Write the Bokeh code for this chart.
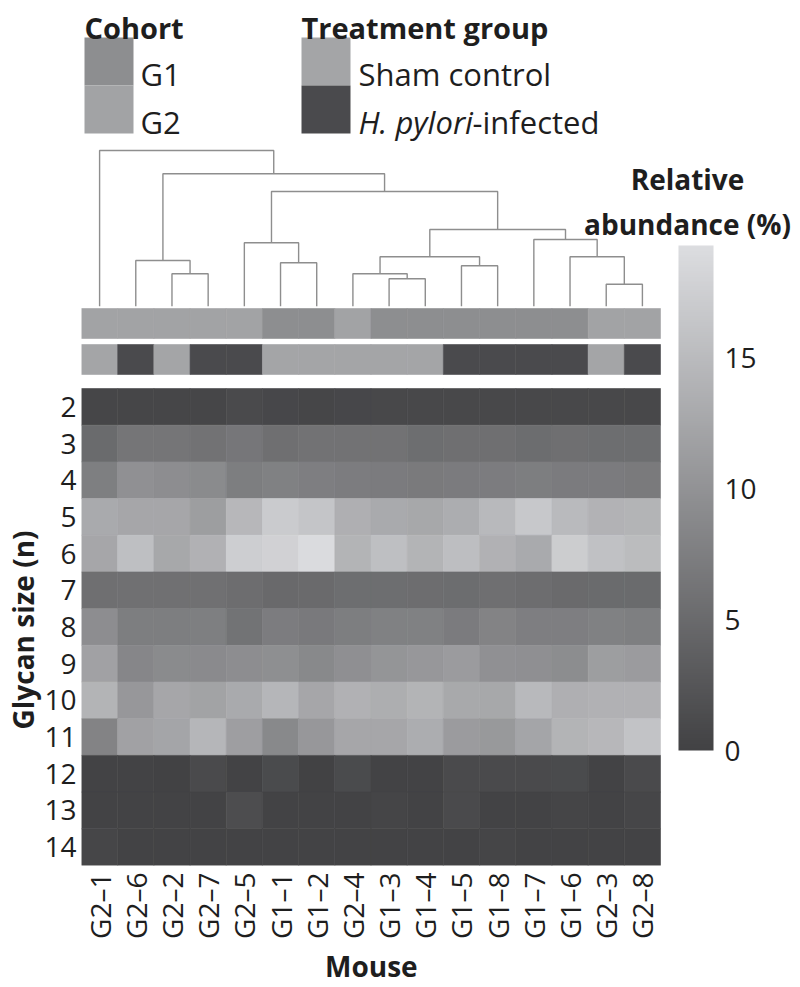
import numpy as np
from math import pi

from bokeh.plotting import figure
from bokeh.models import (ColumnDataSource, Range1d, LinearColorMapper, ColorBar, FixedTicker,
                          Title)
from bokeh.transform import transform
from bokeh.core.properties import value
from bokeh.embed import file_html
from bokeh.resources import INLINE

# ---------------------------------------------------------------- data
mice = ["G2–1", "G2–6", "G2–2", "G2–7", "G2–5", "G1–1", "G1–2", "G2–4",
        "G1–3", "G1–4", "G1–5", "G1–8", "G1–7", "G1–6", "G2–3", "G2–8"]
cohort = ["G2", "G2", "G2", "G2", "G2", "G1", "G1", "G2",
          "G1", "G1", "G1", "G1", "G1", "G1", "G2", "G2"]
treatment = ["Sham", "Hp", "Sham", "Hp", "Hp", "Sham", "Sham", "Sham",
             "Sham", "Sham", "Hp", "Hp", "Hp", "Hp", "Sham", "Hp"]

glycan_sizes = [2, 3, 4, 5, 6, 7, 8, 9, 10, 11, 12, 13, 14]

# relative abundance (%) per glycan size, one value per mouse (column order above)
dp2 = [0.6, 0.6, 0.6, 0.6, 1.0, 0.7, 0.6, 0.7, 0.8, 0.8, 0.8, 0.8, 0.8, 0.8, 0.8, 0.8]
dp3 = [5.1, 6.4, 6.4, 6.0, 6.5, 5.6, 6.0, 6.0, 6.0, 5.5, 5.6, 5.6, 5.3, 5.6, 5.5, 5.5]
dp4 = [7.6, 9.8, 9.4, 9.1, 7.4, 7.8, 7.5, 7.3, 7.1, 7.0, 7.1, 7.3, 7.4, 7.1, 7.1, 7.0]
dp5 = [12.9, 12.5, 12.5, 11.4, 14.6, 17.0, 16.3, 13.6, 12.9, 12.6, 13.3, 14.8, 16.7, 14.9, 14.0, 14.1]
dp6 = [12.5, 15.6, 12.6, 13.8, 17.4, 17.8, 19.0, 14.1, 15.6, 14.1, 15.4, 13.8, 12.9, 17.2, 15.8, 15.1]
dp7 = [5.6, 5.8, 5.8, 5.8, 5.4, 4.9, 5.0, 5.5, 5.5, 5.4, 5.3, 5.6, 5.4, 5.0, 5.1, 5.1]
dp8 = [9.4, 7.4, 7.4, 7.6, 6.1, 7.3, 6.9, 7.4, 7.8, 7.8, 7.1, 8.1, 7.5, 7.5, 7.8, 7.6]
dp9 = [11.9, 8.5, 9.1, 9.0, 9.4, 9.5, 8.8, 9.6, 10.3, 10.6, 11.1, 9.8, 9.6, 9.3, 11.4, 11.1]
dp10 = [14.1, 10.6, 12.5, 12.0, 12.9, 14.4, 12.5, 13.8, 13.4, 14.1, 12.8, 12.6, 14.8, 13.6, 13.8, 13.8]
dp11 = [8.1, 11.9, 12.3, 14.4, 11.5, 8.8, 10.6, 12.5, 12.5, 13.3, 11.1, 10.8, 12.3, 14.1, 14.6, 16.0]
dp12 = [0.1, 0.1, 0.0, 1.0, 0.1, 1.1, 0.0, 1.1, 0.1, 0.1, 1.0, 1.0, 1.0, 1.1, 0.1, 1.0]
dp13 = [0.1, 0.1, 0.1, 0.1, 1.4, 0.1, 0.1, 0.1, 0.4, 0.1, 1.0, 0.1, 0.1, 0.4, 0.1, 0.6]
dp14 = [0.6, 0.1, 0.1, 0.1, 0.1, 0.1, 0.1, 0.1, 0.1, 0.1, 0.1, 0.4, 0.1, 0.1, 0.1, 0.1]
abundance_rows = [dp2, dp3, dp4, dp5, dp6, dp7, dp8, dp9, dp10, dp11, dp12, dp13, dp14]

# hierarchical clustering of the mice: leaves 0..15 are the columns, merge k creates node 16+k
merge_left = [14, 8, 2, 7, 10, 5, 1, 19, 13, 4, 12, 23, 25, 22, 0]
merge_right = [15, 9, 3, 17, 11, 6, 18, 20, 16, 21, 24, 26, 27, 28, 29]
merge_height = [22.0, 27.4, 32.4, 32.4, 40.4, 43.4, 45.7, 49.4, 49.4, 63.4, 66.7, 76.7, 114.7, 132.4, 155.7]

cohort_labels = ["G1", "G2"]
cohort_colors = ["#8d8e90", "#a2a3a5"]
treatment_keys = ["Sham", "Hp"]
treatment_colors = ["#a4a5a7", "#4a4a4d"]

abundance_low, abundance_high = 0.0, 19.3
colorbar_ticks = [0, 5, 10, 15]

# ---------------------------------------------------------------- styling / layout
FONT = "Open Sans"
TEXT = "#1e1e1e"
W, H = 800, 987
LEFT, BOTTOM = 81, 122               # side panels
FRAME_W, FRAME_H = W - LEFT, H - BOTTOM
CELL_W = 579 / 16                    # heatmap column width (px)
CELL_H = 477 / 13                    # heatmap row height (px)
LEAF_BASE = 305.7                    # px from top where dendrogram leaves end

n_cols = len(mice)
n_rows = len(glycan_sizes)

# grey palette, dark (low) to light (high)
lo_rgb = np.array([0x42, 0x42, 0x44], dtype=float)
hi_rgb = np.array([0xdc, 0xdd, 0xe0], dtype=float)
palette = ["#%02x%02x%02x" % tuple(int(round(c)) for c in lo_rgb + (hi_rgb - lo_rgb) * t)
           for t in np.linspace(0, 1, 256)]
mapper = LinearColorMapper(palette=palette, low=abundance_low, high=abundance_high)

p = figure(width=W, height=H, output_backend="svg", toolbar_location=None,
           x_range=Range1d(0, FRAME_W / CELL_W),
           y_range=Range1d(max(glycan_sizes) + 0.5, max(glycan_sizes) + 0.5 - FRAME_H / CELL_H),
           min_border_left=LEFT, min_border_bottom=BOTTOM, min_border_top=0, min_border_right=0)
p.extra_x_ranges = {"px": Range1d(LEFT, W)}
p.extra_y_ranges = {"px": Range1d(FRAME_H, 0),
                    "tree": Range1d(LEAF_BASE - FRAME_H, LEAF_BASE)}
p.outline_line_color = None
p.grid.visible = False
p.background_fill_color = "white"
p.border_fill_color = "white"

# ---------------------------------------------------------------- heatmap
hx, hy, hv = [], [], []
for n, row in zip(glycan_sizes, abundance_rows):
    for j, v in enumerate(row):
        hx.append(j + 0.5)
        hy.append(n)
        hv.append(v)
heat = ColumnDataSource(dict(x=hx, y=hy, v=hv))
p.rect(x="x", y="y", width=1, height=1, source=heat,
       fill_color=transform("v", mapper), line_color=transform("v", mapper), line_width=0.6)

# ---------------------------------------------------------------- annotation bars
ccol = dict(zip(cohort_labels, cohort_colors))
tcol = dict(zip(treatment_keys, treatment_colors))
cols = list(range(n_cols))
p.quad(left=cols, right=[c + 1 for c in cols], top=308, bottom=338,
       fill_color=[ccol[c] for c in cohort], line_color=[ccol[c] for c in cohort],
       line_width=0.6, y_range_name="px")
p.quad(left=cols, right=[c + 1 for c in cols], top=344, bottom=374,
       fill_color=[tcol[t] for t in treatment], line_color=[tcol[t] for t in treatment],
       line_width=0.6, y_range_name="px")

# ---------------------------------------------------------------- dendrogram
pos = {i: i + 0.5 for i in range(n_cols)}
hgt = {i: 0.0 for i in range(n_cols)}
dxs, dys = [], []
for k, (a, b, h) in enumerate(zip(merge_left, merge_right, merge_height)):
    dxs.append([pos[a], pos[a], pos[b], pos[b]])
    dys.append([hgt[a], h, h, hgt[b]])
    pos[n_cols + k] = (pos[a] + pos[b]) / 2
    hgt[n_cols + k] = h
p.multi_line(dxs, dys, line_color="#8e8e8e", line_width=1.4, y_range_name="tree")

# ---------------------------------------------------------------- axes
p.xaxis.ticker = FixedTicker(ticks=[j + 0.5 for j in cols])
p.xaxis.major_label_overrides = {j + 0.5: m for j, m in enumerate(mice)}
p.xaxis.major_label_orientation = pi / 2
p.xaxis.major_label_standoff = 7

p.yaxis.ticker = FixedTicker(ticks=glycan_sizes)
p.yaxis.major_label_standoff = 5

for ax in (p.xaxis[0], p.yaxis[0]):
    ax.axis_line_color = None
    ax.major_tick_line_color = None
    ax.minor_tick_line_color = None
    ax.major_tick_out = 0
    ax.major_tick_in = 0
    ax.minor_tick_out = 0
    ax.major_label_text_font = FONT
    ax.major_label_text_font_size = "28px"
    ax.major_label_text_color = TEXT

# axis titles as side-panel titles, shifted so they sit centred on the heatmap block
heat_cx = LEFT + n_cols * CELL_W / 2          # px, horizontal centre of the heatmap
heat_cy = FRAME_H - n_rows * CELL_H / 2       # px, vertical centre of the heatmap
MOUSE_W, GLYCAN_W = 92, 205                    # rendered title lengths (px)
title_style = dict(text_font=FONT, text_font_size="28px", text_font_style="bold",
                   text_color=TEXT, align="left")
p.add_layout(Title(text="Mouse", offset=heat_cx - MOUSE_W / 2 - LEFT, standoff=6,
                   **title_style), "below")
p.add_layout(Title(text="Glycan size (n)", offset=FRAME_H - (heat_cy + GLYCAN_W / 2),
                   standoff=0, **title_style), "left")

# ---------------------------------------------------------------- colour bar
cb = ColorBar(color_mapper=mapper, ticker=FixedTicker(ticks=colorbar_ticks),
              width=35, height=505, location=(678 - LEFT, FRAME_H - 750),
              padding=0, margin=0, label_standoff=11,
              major_label_text_font=FONT, major_label_text_font_size="28px",
              major_label_text_color=TEXT,
              major_tick_line_color=None, minor_tick_line_color=None,
              bar_line_color=None, border_line_color=None, background_fill_alpha=0)
p.add_layout(cb)

p.text(x=[687, 687], y=[178, 223], text=["Relative", "abundance (%)"],
       text_align="center", text_baseline="alphabetic",
       text_font=value(FONT), text_font_style="bold", text_font_size="28px",
       text_color=TEXT, x_range_name="px", y_range_name="px")

# ---------------------------------------------------------------- legends
sw_top = [37, 85]
sw_bot = [85, 133]
p.quad(left=84, right=133, top=sw_top, bottom=sw_bot,
       fill_color=cohort_colors, line_color=None, x_range_name="px", y_range_name="px")
p.quad(left=301, right=350, top=sw_top, bottom=sw_bot,
       fill_color=treatment_colors, line_color=None, x_range_name="px", y_range_name="px")

p.text(x=[84, 301], y=[27, 27], text=["Cohort", "Treatment group"],
       text_font=value(FONT), text_font_style="bold", text_font_size="29px",
       text_color=TEXT, text_baseline="alphabetic", x_range_name="px", y_range_name="px")
p.text(x=[140, 140], y=[73, 121], text=cohort_labels,
       text_font=value(FONT), text_font_size="31px", text_color=TEXT,
       text_baseline="alphabetic", x_range_name="px", y_range_name="px")
p.text(x=[358], y=[73], text=["Sham control"],
       text_font=value(FONT), text_font_size="31px", text_color=TEXT,
       text_baseline="alphabetic", x_range_name="px", y_range_name="px")
p.text(x=[358], y=[121], text=["H. pylori"],
       text_font=value(FONT), text_font_style="italic", text_font_size="31px", text_color=TEXT,
       text_baseline="alphabetic", x_range_name="px", y_range_name="px")
p.text(x=[472], y=[121], text=["-infected"],
       text_font=value(FONT), text_font_size="31px", text_color=TEXT,
       text_baseline="alphabetic", x_range_name="px", y_range_name="px")

open("out.html", "w").write(file_html(p, INLINE))
